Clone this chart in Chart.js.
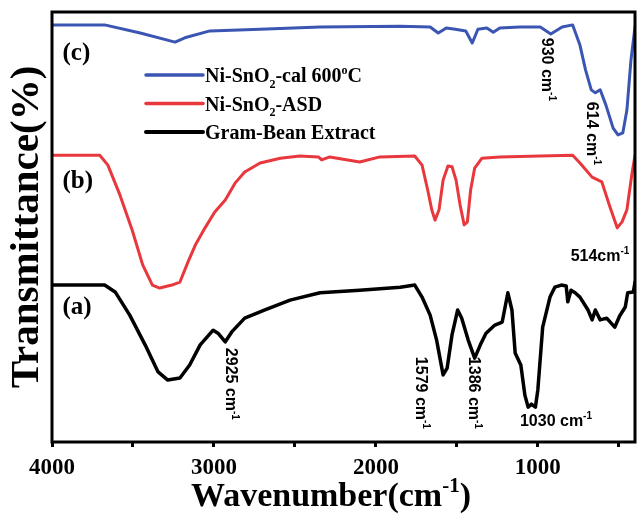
<!DOCTYPE html>
<html>
<head>
<meta charset="utf-8">
<script src="https://cdn.jsdelivr.net/npm/chart.js@4.4.1/dist/chart.umd.min.js"></script>
<style>
html, body { margin: 0; padding: 0; background: #fff; }
#wrap { width: 639px; height: 515px; }
</style>
</head>
<body>
<div id="wrap"><canvas id="ftir"></canvas></div>
<script>
// FTIR spectra: wavenumber (cm-1) vs transmittance (offset traces)
var calWave = [4000,3675,3455,3240,3180,3025,2715,2345,1850,1665,1615,1565,1510,1445,1405,1370,1315,1275,1235,1110,985,920,850,785,740,705,670,645,615,580,535,505,475,450,425,400];
var calTrans = [97.0,97.0,95.1,93.0,94.0,95.6,96.0,96.5,96.7,96.5,95.1,96.3,96.0,95.6,92.8,96.0,96.3,95.3,96.3,96.5,96.5,94.9,96.5,97.0,92.3,86.5,81.9,81.2,81.9,78.4,73.0,71.4,71.9,77.2,88.8,96.5];

var asdWave = [4000,3705,3655,3580,3505,3440,3380,3335,3260,3210,3160,3115,3055,2995,2930,2870,2810,2715,2590,2470,2355,2335,2285,2100,1975,1760,1715,1680,1655,1635,1610,1585,1555,1530,1505,1480,1455,1435,1415,1390,1345,1235,985,785,740,665,605,555,510,480,450,420,400];
var asdTrans = [66.7,66.7,64.4,57.4,49.3,41.2,36.5,35.8,36.5,37.2,41.9,45.8,49.8,53.5,56.3,60.2,62.8,64.9,66.0,66.5,66.3,65.6,66.3,65.1,66.3,66.5,64.4,58.6,54.0,51.6,54.0,60.9,64.2,64.0,60.9,55.1,50.5,51.2,58.6,63.7,66.0,66.3,66.5,66.7,64.9,61.6,60.5,54.7,49.8,51.2,54.0,62.1,66.7];

var beanWave = [4000,3675,3610,3520,3425,3345,3285,3210,3150,3085,3005,2975,2930,2890,2810,2685,2530,2345,2100,1850,1760,1715,1665,1625,1585,1560,1530,1495,1470,1430,1390,1355,1320,1265,1220,1185,1160,1140,1105,1080,1060,1040,1015,1000,970,925,895,855,825,815,795,770,740,690,665,645,615,575,525,495,460,445,410,400];
var beanTrans = [36.5,36.5,34.9,29.5,22.6,16.3,14.4,14.9,17.9,22.6,26.0,25.3,23.3,25.6,28.8,30.7,33.0,34.7,35.3,36.0,36.5,33.7,29.5,23.7,15.6,17.2,24.9,30.7,28.8,23.7,19.5,22.6,25.3,27.2,27.9,34.7,30.7,20.7,17.9,10.9,8.1,8.8,8.1,12.1,26.7,33.7,36.0,36.5,36.3,32.6,35.3,34.7,33.7,30.7,28.4,30.7,28.4,28.8,26.7,29.3,31.4,34.7,34.9,37.2];

var xTicks = [4000, 3500, 3000, 2500, 2000, 1500, 1000, 500];

var serif = '"Liberation Serif", "Times New Roman", serif';
var sans = '"Liberation Sans", Arial, sans-serif';

function pts(w, t) {
  return w.map(function (v, i) { return { x: v, y: t[i] }; });
}

// draws text pieces with sub/superscripts at baseline y
function rich(ctx, parts, x, y, size, family, center) {
  var widths = parts.map(function (p) {
    ctx.font = 'bold ' + (p.s ? Math.round(size * 0.62) : size) + 'px ' + family;
    return ctx.measureText(p.t).width;
  });
  var total = widths.reduce(function (a, b) { return a + b; }, 0);
  var cx = center ? x - total / 2 : x;
  parts.forEach(function (p, i) {
    ctx.font = 'bold ' + (p.s ? Math.round(size * 0.62) : size) + 'px ' + family;
    var dy = p.s === 'sup' ? -size * 0.42 : (p.s === 'sub' ? size * 0.28 : 0);
    ctx.fillText(p.t, cx, y + dy);
    cx += widths[i];
  });
}

function cm(num) {
  return [{ t: num + ' cm' }, { t: '-1', s: 'sup' }];
}

var decor = {
  id: 'decor',
  afterDatasetsDraw: function (chart) {
    var ctx = chart.ctx, a = chart.chartArea;
    var sx = chart.scales.x, sy = chart.scales.y;
    ctx.save();
    ctx.strokeStyle = '#000';
    ctx.lineWidth = 3;
    ctx.strokeRect(a.left, a.top, a.right - a.left, a.bottom - a.top);

    ctx.fillStyle = '#000';
    ctx.textBaseline = 'alphabetic';

    // panel letters
    ctx.font = 'bold 25px ' + serif;
    ctx.textAlign = 'left';
    [['(c)', 90.7], ['(b)', 60.9], ['(a)', 31.6]].forEach(function (p) {
      ctx.fillText(p[0], sx.getPixelForValue(3935), sy.getPixelForValue(p[1]) + 8);
    });

    // legend
    var rows = [
      [{ t: 'Ni-SnO' }, { t: '2', s: 'sub' }, { t: '-cal 600' }, { t: 'o', s: 'sup' }, { t: 'C' }],
      [{ t: 'Ni-SnO' }, { t: '2', s: 'sub' }, { t: '-ASD' }],
      [{ t: 'Gram-Bean Extract' }]
    ];
    chart.data.datasets.forEach(function (ds, i) {
      var y = a.top + 63 + i * 28.5;
      ctx.strokeStyle = ds.borderColor;
      ctx.lineWidth = ds.borderWidth + 0.5;
      ctx.lineCap = 'round';
      ctx.beginPath();
      ctx.moveTo(a.left + 94, y);
      ctx.lineTo(a.left + 151, y);
      ctx.stroke();
      rich(ctx, rows[i], a.left + 153, y + 7, 20, serif, false);
    });

    // peak labels
    var vert = [['930', 935, 94.0], ['614', 660, 79.1], ['2925', 2890, 21.9], ['1579', 1715, 19.8], ['1386', 1390, 19.8]];
    vert.forEach(function (p) {
      ctx.save();
      ctx.translate(sx.getPixelForValue(p[1]), sy.getPixelForValue(p[2]));
      ctx.rotate(Math.PI / 2);
      rich(ctx, cm(p[0]), 0, 6, 16, sans, false);
      ctx.restore();
    });
    rich(ctx, [{ t: '514cm' }, { t: '-1', s: 'sup' }], sx.getPixelForValue(616), sy.getPixelForValue(43.5) + 6, 16, sans, true);
    rich(ctx, cm('1030'), sx.getPixelForValue(888), sy.getPixelForValue(5.1) + 6, 16, sans, true);

    // axis titles
    rich(ctx, [{ t: 'Wavenumber(cm' }, { t: '-1', s: 'sup' }, { t: ')' }], 331, 506, 34, serif, true);
    ctx.save();
    ctx.translate(38, (a.top + a.bottom) / 2);
    ctx.rotate(-Math.PI / 2);
    rich(ctx, [{ t: 'Transmittance(%)' }], 0, 0, 41, serif, true);
    ctx.restore();
    ctx.restore();
  }
};

var ctx = document.getElementById('ftir');

var chart = new Chart(ctx, {
  type: 'line',
  data: {
    datasets: [
      { label: 'Ni-SnO\u2082-cal 600\u00b0C', data: pts(calWave, calTrans), borderColor: '#3a56b2', borderWidth: 3 },
      { label: 'Ni-SnO\u2082-ASD', data: pts(asdWave, asdTrans), borderColor: '#e8383d', borderWidth: 3 },
      { label: 'Gram-Bean Extract', data: pts(beanWave, beanTrans), borderColor: '#000000', borderWidth: 3.5 }
    ]
  },
  options: {
    responsive: true,
    maintainAspectRatio: false,
    devicePixelRatio: 1,
    animation: false,
    layout: { padding: { top: 12, right: 4, left: 0, bottom: 0 } },
    elements: {
      point: { radius: 0 },
      line: { tension: 0, fill: false, borderJoinStyle: 'round', borderCapStyle: 'round' }
    },
    plugins: {
      legend: { display: false },
      tooltip: { enabled: false }
    },
    scales: {
      x: {
        type: 'linear',
        reverse: true,
        min: 400,
        max: 4000,
        afterBuildTicks: function (scale) {
          scale.ticks = xTicks.map(function (v) { return { value: v }; });
        },
        afterFit: function (scale) { scale.height = 73; },
        grid: { display: true, drawOnChartArea: false, drawTicks: true, tickLength: 5, tickWidth: 3, color: '#000' },
        border: { display: false },
        ticks: {
          color: '#000',
          padding: 7,
          maxRotation: 0,
          autoSkip: false,
          font: { family: 'Liberation Serif', size: 23, weight: 'bold' },
          callback: function (v) { return v % 1000 === 0 ? v : ''; }
        }
      },
      y: {
        min: 0,
        max: 100,
        afterFit: function (scale) { scale.width = 52; },
        grid: { display: false },
        border: { display: false },
        ticks: { display: false }
      }
    }
  },
  plugins: [decor]
});
</script>
</body>
</html>
